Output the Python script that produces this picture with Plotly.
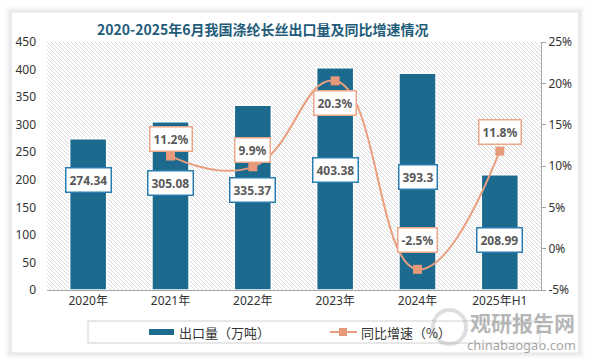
import base64
import plotly.graph_objects as go

categories = ["2020年", "2021年", "2022年", "2023年", "2024年", "2025年H1"]
export_volume = [274.34, 305.08, 335.37, 403.38, 393.3, 208.99]
yoy_growth = [None, 11.2, 9.9, 20.3, -2.5, 11.8]
left_ticks = [0, 50, 100, 150, 200, 250, 300, 350, 400, 450]
right_ticks = [-5, 0, 5, 10, 15, 20, 25]

# layout helpers (label offsets in pixels relative to the mark)
bar_label_shift = [-41, -61, -85, -102, -104, -65]
line_label_shift = [0, 17, 17, -22, 29, 19]

BAR = "#1C6A8E"
LINE = "#EA9E7E"
MARK = "#E8997A"

L, R, T, B = 47, 541, 42, 290
W, H = 590, 362


def px(x):
    return (x - L) / (R - L)


def py(y):
    return (B - y) / (B - T)


# hatched plot background
pw, ph = R - L, B - T
svg = (
    f'<svg xmlns="http://www.w3.org/2000/svg" width="{pw}" height="{ph}">'
    '<defs><pattern id="h" width="4" height="4" patternUnits="userSpaceOnUse">'
    '<path d="M-1,-1 L5,5 M-1,3 L1,5 M3,-1 L5,1" stroke="#cfcfcf" stroke-width="0.8"/>'
    '</pattern></defs>'
    f'<rect width="{pw}" height="{ph}" fill="url(#h)"/></svg>'
)
svg_uri = "data:image/svg+xml;base64," + base64.b64encode(svg.encode()).decode()

fig = go.Figure()

fig.add_trace(go.Bar(
    x=categories, y=export_volume, name="出口量（万吨）",
    marker=dict(color=BAR, line=dict(color="white", width=1.5)),
    width=0.45, showlegend=False, hoverinfo="skip",
))

fig.add_trace(go.Scatter(
    x=categories, y=yoy_growth, yaxis="y2", name="同比增速（%）",
    mode="lines+markers",
    line=dict(color=LINE, width=2, shape="spline", smoothing=1.3),
    marker=dict(symbol="square", size=9, color=MARK),
    connectgaps=False, showlegend=False, hoverinfo="skip",
))

shapes = []
# card shadow (outlines only, so the interior stays white)
shadow_cols = ["#fbfbfb", "#f7f7f7", "#f2f2f2", "#ececec", "#e6e6e6", "#e0e0e0"]
for k, col in zip(range(6, 0, -1), shadow_cols):
    shapes.append(dict(
        type="rect", xref="paper", yref="paper", layer="below",
        x0=px(12 - k), x1=px(578 + k), y0=py(352 + k), y1=py(12 - k + 1),
        fillcolor="rgba(0,0,0,0)", line=dict(width=1.2, color=col),
    ))
# legend box
shapes.append(dict(
    type="rect", xref="paper", yref="paper",
    x0=px(88), x1=px(540), y0=py(343), y1=py(321),
    fillcolor="rgba(0,0,0,0)", line=dict(color="#d0d0d0", width=1),
))
# legend bar swatch
shapes.append(dict(
    type="rect", xref="paper", yref="paper",
    x0=px(149), x1=px(174), y0=py(335), y1=py(329),
    fillcolor=BAR, line=dict(width=0),
))
# legend line swatch
shapes.append(dict(
    type="line", xref="paper", yref="paper",
    x0=px(330), x1=px(357), y0=py(332), y1=py(332),
    line=dict(color=LINE, width=2),
))
shapes.append(dict(
    type="rect", xref="paper", yref="paper",
    x0=px(339), x1=px(347), y0=py(336), y1=py(328),
    fillcolor=MARK, line=dict(width=0),
))
# watermark swirl
shapes.append(dict(
    type="circle", xref="paper", yref="paper",
    x0=px(433), x1=px(466), y0=py(344), y1=py(310),
    fillcolor="rgba(0,0,0,0)", line=dict(color="rgba(160,160,160,0.35)", width=4),
))

annotations = []
for c, v, s in zip(categories, export_volume, bar_label_shift):
    annotations.append(dict(
        x=c, y=v, xref="x", yref="y", yshift=s, text=f"<b>{v}</b>",
        showarrow=False, font=dict(size=12, color="#595959", family="Noto Sans, Noto Sans CJK SC"),
        bgcolor="white", bordercolor="#2A7DB0", borderwidth=1.5, borderpad=3,
    ))
for c, v, s in zip(categories, yoy_growth, line_label_shift):
    if v is None:
        continue
    annotations.append(dict(
        x=c, y=v, xref="x", yref="y2", yshift=s, text=f"<b>{v}%</b>",
        showarrow=False, font=dict(size=12, color="#595959", family="Noto Sans, Noto Sans CJK SC"),
        bgcolor="white", bordercolor="#EBA78A", borderwidth=1.5, borderpad=3,
    ))

# title
annotations.append(dict(
    x=px(263), y=py(29), xref="paper", yref="paper", showarrow=False,
    xanchor="center", yanchor="middle",
    text="<b>2020-2025年6月我国涤纶长丝出口量及同比增速情况</b>",
    font=dict(size=14, color="#1F5C7A", family="Noto Sans CJK SC"),
))
# legend texts
annotations.append(dict(
    x=px(177), y=py(332), xref="paper", yref="paper", showarrow=False,
    xanchor="left", yanchor="middle", text="出口量（万吨）",
    font=dict(size=13, color="#333333", family="Noto Sans CJK SC"),
))
annotations.append(dict(
    x=px(359), y=py(332), xref="paper", yref="paper", showarrow=False,
    xanchor="left", yanchor="middle", text="同比增速（%）",
    font=dict(size=13, color="#333333", family="Noto Sans CJK SC"),
))
# watermark
annotations.append(dict(
    x=px(577), y=py(322), xref="paper", yref="paper", showarrow=False,
    xanchor="right", yanchor="middle", text="<b>观研报告网</b>",
    font=dict(size=21, color="rgba(150,150,150,0.7)", family="Noto Sans CJK SC"),
))
annotations.append(dict(
    x=px(578), y=py(345), xref="paper", yref="paper", showarrow=False,
    xanchor="right", yanchor="middle", text="chinabaogao.com",
    font=dict(size=13, color="rgba(140,140,140,0.8)", family="Noto Sans, DejaVu Sans"),
))

fig.update_layout(
    width=W, height=H,
    margin=dict(l=L, r=W - R, t=T, b=H - B, pad=0),
    paper_bgcolor="white", plot_bgcolor="rgba(0,0,0,0)",
    font=dict(family="Noto Sans, Noto Sans CJK SC", size=12, color="#333333"),
    xaxis=dict(
        type="category", showgrid=False, zeroline=False,
        showline=True, linecolor="#a6a6a6", linewidth=1,
        ticks="", tickfont=dict(size=12, color="#333333"),
    ),
    yaxis=dict(
        range=[0, 450], tickvals=left_ticks, showgrid=False, zeroline=False,
        showline=False, ticks="", tickfont=dict(size=12, color="#333333"),
        ticklabelstandoff=10,
    ),
    yaxis2=dict(
        range=[-5, 25], tickvals=right_ticks, ticktext=[f"{t}%" for t in right_ticks],
        overlaying="y", side="right", showgrid=False, zeroline=False,
        showline=True, linecolor="#a6a6a6", linewidth=1,
        ticks="outside", ticklen=4, tickcolor="#a6a6a6",
        tickfont=dict(size=12, color="#333333"),
    ),
    images=[dict(
        source=svg_uri, xref="paper", yref="paper", x=0, y=1,
        sizex=1, sizey=1, sizing="stretch", layer="below",
        xanchor="left", yanchor="top",
    )],
    shapes=shapes,
    annotations=annotations,
)

fig.write_html(
    "out.html",
    config={"displayModeBar": False},
    post_script="document.body.style.margin='0';document.body.style.padding='0';",
)
